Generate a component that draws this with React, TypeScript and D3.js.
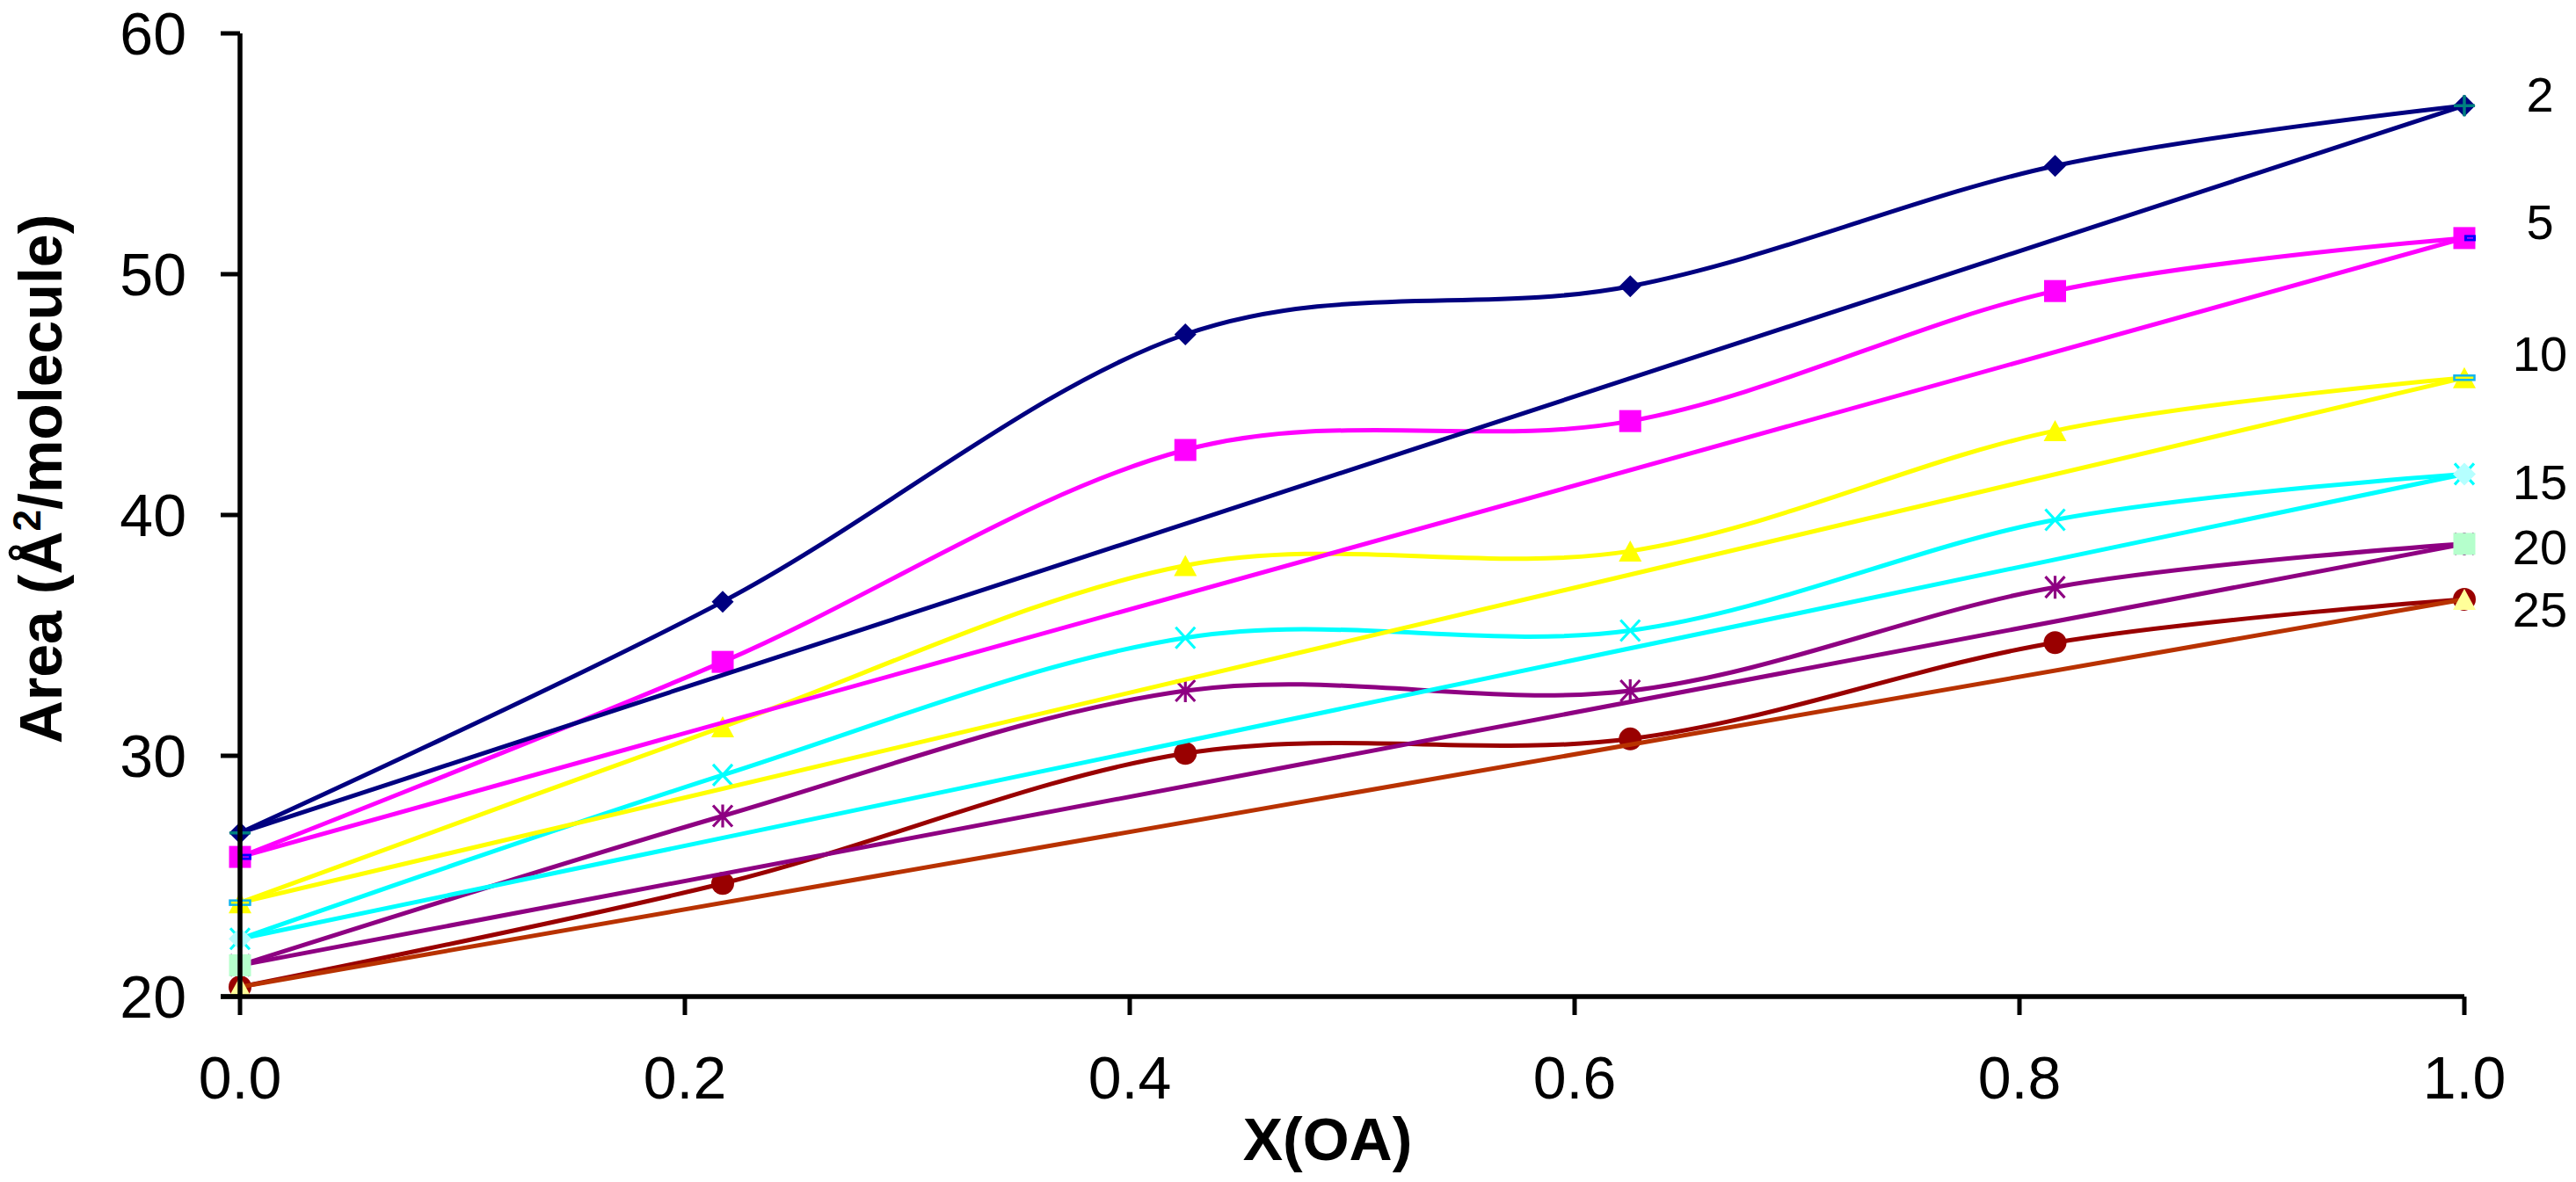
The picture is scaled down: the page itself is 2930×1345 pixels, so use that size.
import React from 'react';
import * as d3 from 'd3';

const W = 2930;
const H = 1345;

// ---- data ----
const xValues = [0, 0.217, 0.425, 0.625, 0.816, 1.0];
const seriesNames = ['2', '5', '10', '15', '20', '25'];
const area2 = [26.8, 36.4, 47.5, 49.5, 54.5, 57.0];
const area5 = [25.8, 33.9, 42.7, 43.9, 49.3, 51.5];
const area10 = [23.9, 31.2, 37.9, 38.5, 43.5, 45.7];
const area15 = [22.4, 29.2, 34.9, 35.2, 39.8, 41.7];
const area20 = [21.3, 27.5, 32.7, 32.7, 37.0, 38.8];
const area25 = [20.4, 24.7, 30.1, 30.7, 34.7, 36.5];
const idealX = [0, 1];
const ideal2 = [26.8, 57.0];
const ideal5 = [25.8, 51.5];
const ideal10 = [23.9, 45.7];
const ideal15 = [22.4, 41.7];
const ideal20 = [21.3, 38.8];
const ideal25 = [20.4, 36.5];
const labelLevels = [57.5, 52.2, 46.7, 41.4, 38.7, 36.1];
const yTicks = [20, 30, 40, 50, 60];
const xTicks = [0, 0.2, 0.4, 0.6, 0.8, 1.0];

const dataSeries = [area2, area5, area10, area15, area20, area25];
const idealSeries = [ideal2, ideal5, ideal10, ideal15, ideal20, ideal25];

// ---- styles ----
const dataColors = ['#000080', '#FF00FF', '#FFFF00', '#00FFFF', '#8E0082', '#990000'];
const idealColors = ['#000080', '#FF00FF', '#FFFF00', '#00FFFF', '#8E0082', '#B83200'];
const dataMarkers = ['diamond', 'square', 'triangle', 'cross', 'asterisk', 'circle'];
const idealMarkers = ['plus', 'dashBlue', 'dashSky', 'diamondLight', 'squareLight', 'triangleLight'];

const margin = { left: 273, right: W - 2803, top: 38, bottom: H - 1134 };

const x = d3.scaleLinear().domain([0, 1]).range([margin.left, W - margin.right]);
const y = d3.scaleLinear().domain([20, 60]).range([H - margin.bottom, margin.top]);

const smooth = d3
  .line<[number, number]>()
  .x((d) => x(d[0]))
  .y((d) => y(d[1]))
  .curve(d3.curveCardinal.tension(0));
const straight = d3
  .line<[number, number]>()
  .x((d) => x(d[0]))
  .y((d) => y(d[1]));

function Marker({ type, cx, cy, color }: { type: string; cx: number; cy: number; color: string }) {
  const s = 12.5;
  switch (type) {
    case 'diamond':
      return <path d={`M${cx},${cy - s}L${cx + s},${cy}L${cx},${cy + s}L${cx - s},${cy}Z`} fill={color} />;
    case 'square':
      return <rect x={cx - s} y={cy - s} width={2 * s} height={2 * s} fill={color} />;
    case 'triangle':
      return <path d={`M${cx},${cy - 12}L${cx + 13},${cy + 12}L${cx - 13},${cy + 12}Z`} fill={color} />;
    case 'cross':
      return (
        <path
          d={`M${cx - 11},${cy - 12}L${cx + 11},${cy + 12}M${cx + 11},${cy - 12}L${cx - 11},${cy + 12}`}
          stroke={color}
          strokeWidth={3.2}
          fill="none"
        />
      );
    case 'asterisk':
      return (
        <path
          d={`M${cx - 11},${cy - 12}L${cx + 11},${cy + 12}M${cx + 11},${cy - 12}L${cx - 11},${cy + 12}M${cx},${cy - 13}L${cx},${cy + 13}`}
          stroke={color}
          strokeWidth={3.2}
          fill="none"
        />
      );
    case 'circle':
      return <ellipse cx={cx} cy={cy} rx={13} ry={13} fill={color} />;
    case 'plus':
      return (
        <path
          d={`M${cx - 12},${cy}L${cx + 12},${cy}M${cx},${cy - 12}L${cx},${cy + 12}`}
          stroke="#008080"
          strokeWidth={3.5}
          fill="none"
        />
      );
    case 'dashBlue':
      return (
        <g>
          <rect x={cx} y={cy - 3.5} width={13} height={7} fill="#0000FF" />
          <rect x={cx + 3} y={cy - 0.6} width={7} height={1.2} fill="#FF00FF" />
        </g>
      );
    case 'dashSky':
      return (
        <rect x={cx - 11.5} y={cy - 2.5} width={23} height={5} fill="#FFFF00" stroke="#10B4EE" strokeWidth={2.5} />
      );
    case 'diamondLight':
      return <path d={`M${cx},${cy - 13}L${cx + 13},${cy}L${cx},${cy + 13}L${cx - 13},${cy}Z`} fill="#B5FFFF" />;
    case 'squareLight':
      return <rect x={cx - 12.5} y={cy - 12.5} width={25} height={25} fill="#B5FFCC" />;
    case 'triangleLight':
      return <path d={`M${cx},${cy - 12}L${cx + 13},${cy + 12}L${cx - 13},${cy + 12}Z`} fill="#FFFF99" />;
    default:
      return null;
  }
}

export default function App() {
  const font = '"Liberation Sans", Arial, sans-serif';
  const x0 = x(0);
  const y0 = y(20);
  return (
    <svg
      width={W}
      height={H}
      viewBox={`0 0 ${W} ${H}`}
      style={{ position: 'absolute', left: 0, top: 0, background: '#fff' }}
    >
      <rect width={W} height={H} fill="#fff" />

      {/* data curves */}
      {dataSeries.map((vals, i) => (
        <g key={'d' + i}>
          <path
            d={smooth(xValues.map((xv, j) => [xv, vals[j]] as [number, number])) || ''}
            fill="none"
            stroke={dataColors[i]}
            strokeWidth={5}
          />
          {vals.map((v, j) => (
            <Marker key={j} type={dataMarkers[i]} cx={x(xValues[j])} cy={y(v)} color={dataColors[i]} />
          ))}
        </g>
      ))}

      {/* ideal lines */}
      {idealSeries.map((vals, i) => (
        <g key={'i' + i}>
          <path
            d={straight(idealX.map((xv, j) => [xv, vals[j]] as [number, number])) || ''}
            fill="none"
            stroke={idealColors[i]}
            strokeWidth={5}
          />
          {vals.map((v, j) => (
            <Marker key={j} type={idealMarkers[i]} cx={x(idealX[j])} cy={y(v)} color={idealColors[i]} />
          ))}
        </g>
      ))}

      {/* axes */}
      <line x1={x0} x2={x0} y1={y(60)} y2={y0} stroke="#000" strokeWidth={5.5} />
      <line x1={x0 - 22} x2={x(1)} y1={y0} y2={y0} stroke="#000" strokeWidth={5.5} />
      {yTicks.map((t) => (
        <g key={'yt' + t}>
          <line x1={x0 - 22} x2={x0} y1={y(t)} y2={y(t)} stroke="#000" strokeWidth={5} />
          <text
            x={212}
            y={y(t)}
            dy="0.355em"
            textAnchor="end"
            fontFamily={font}
            fontSize={68}
            fill="#000"
          >
            {t}
          </text>
        </g>
      ))}
      {xTicks.map((t) => (
        <g key={'xt' + t}>
          <line x1={x(t)} x2={x(t)} y1={y0} y2={y0 + 21} stroke="#000" strokeWidth={5} />
          <text x={x(t)} y={1250} textAnchor="middle" fontFamily={font} fontSize={68} fill="#000">
            {t.toFixed(1)}
          </text>
        </g>
      ))}

      {/* axis titles */}
      <text
        transform="translate(70,545) rotate(-90)"
        textAnchor="middle"
        fontFamily={font}
        fontSize={68}
        fontWeight="bold"
        fill="#000"
      >
        Area (Å
        <tspan fontSize={44} dy={-24}>
          2
        </tspan>
        <tspan dy={24}>/molecule)</tspan>
      </text>
      <text x={1510} y={1320} textAnchor="middle" fontFamily={font} fontSize={68} fontWeight="bold" fill="#000">
        X(OA)
      </text>

      {/* series labels */}
      {seriesNames.map((name, i) => (
        <text
          key={'lab' + name}
          x={2889}
          y={y(labelLevels[i]) + 20}
          textAnchor="middle"
          fontFamily='"Liberation Sans Narrow", "Liberation Sans", Arial, sans-serif'
          fontSize={56}
          fill="#000"
        >
          {name}
        </text>
      ))}
    </svg>
  );
}
